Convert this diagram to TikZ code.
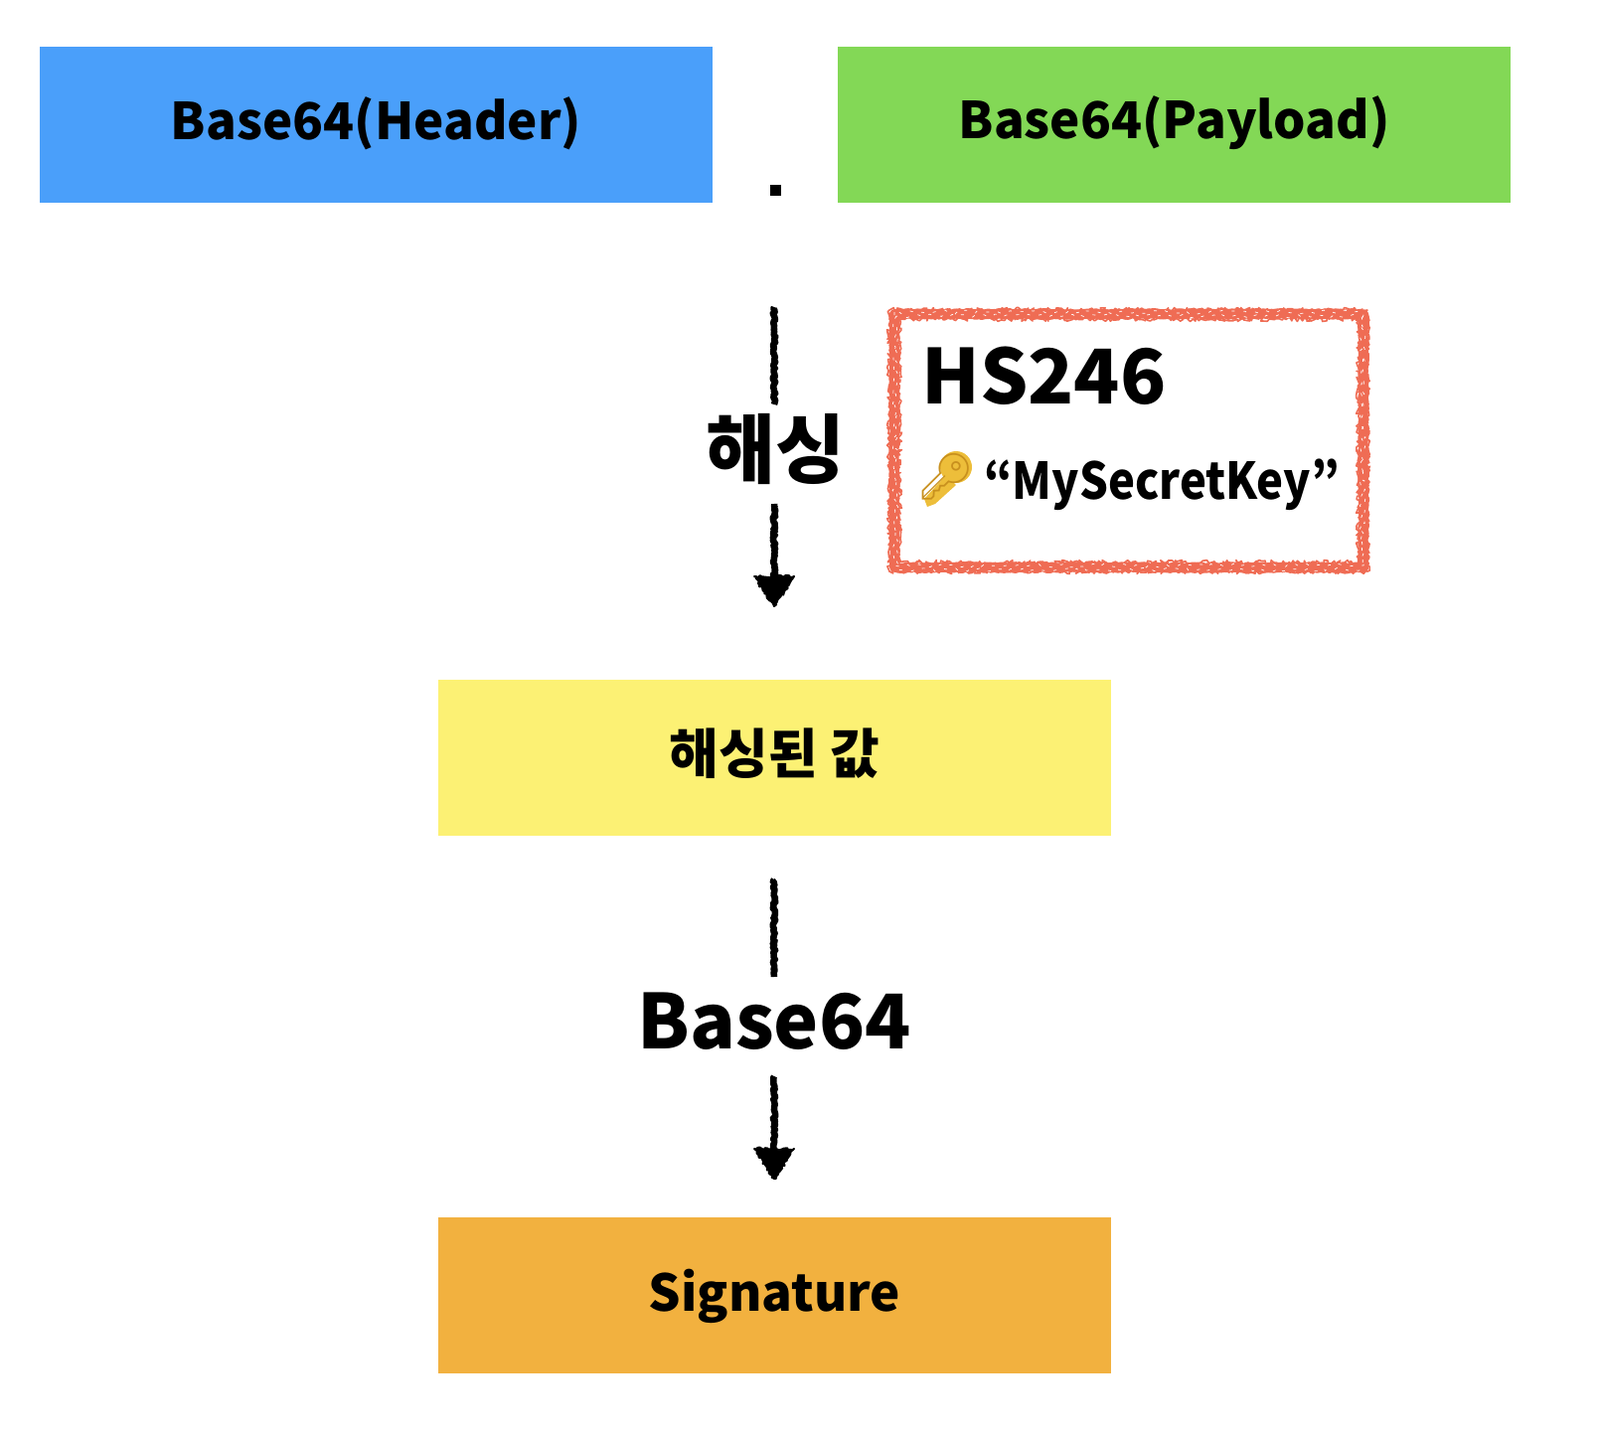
\documentclass[tikz,border=0pt]{standalone}
\usepackage{fontspec}
\setmainfont{Noto Sans CJK KR}[UprightFont=* Black,BoldFont=* Black]
\newfontfamily\emojifont{Noto Emoji}
\usetikzlibrary{decorations.pathmorphing}
\definecolor{hdrblue}{HTML}{4A9FFA}
\definecolor{plgreen}{HTML}{83D856}
\definecolor{hashyellow}{HTML}{FCF174}
\definecolor{sigorange}{HTML}{F2B13F}
\definecolor{keyred}{HTML}{EF6C54}
\definecolor{keygold}{HTML}{EDBE3A}
\definecolor{keyedge}{HTML}{C8901E}
\tikzset{
  x=1pt,y=-1pt,
  blockbox/.style={minimum width=677pt,minimum height=157pt,inner sep=0pt,anchor=center},
  blocktext/.style={font=\fontsize{51}{60}\selectfont,text=black,inner sep=0pt,anchor=center},
  biglabel/.style={font=\fontsize{76}{90}\selectfont,text=black,inner sep=0pt,anchor=center},
  roughline/.style={draw=black,line width=6.5pt,line join=round,decorate,decoration={random steps,segment length=1.8pt,amplitude=1.3pt}},
  roughtip/.style={fill=black,draw=black,line width=2pt,line join=round,decorate,decoration={random steps,segment length=2pt,amplitude=1.5pt}},
  roughframe/.style={draw=keyred,line width=10pt,line join=round,decorate,decoration={random steps,segment length=2pt,amplitude=1pt}},
  roughframeb/.style={draw=keyred,line width=1.6pt,line join=round,decorate,decoration={random steps,segment length=2pt,amplitude=2.5pt}},
  chalk/.style={draw=white,line width=0.7pt,dash pattern=on 3pt off 9pt,decorate,decoration={random steps,segment length=4pt,amplitude=2pt}}
}
\begin{document}
\begin{tikzpicture}
\useasboundingbox (0,0) rectangle (1610,1444);
\node[blockbox,fill=hdrblue] (header) at (378.5,125.5) {};
\node[blockbox,fill=plgreen] (payload) at (1181.5,125.5) {};
\node[blockbox,fill=hashyellow] (hashed) at (779.5,762) {};
\node[blockbox,fill=sigorange] (signature) at (779.5,1303) {};
\node[blocktext] (headertext) at (378.5,124) {Base64(Header)};
\node[blocktext] (payloadtext) at (1181.5,124) {Base64(Payload)};
\node[blocktext,font=\fontsize{54}{60}\selectfont] (hashedtext) at (779.5,758) {해싱된 값};
\node[blocktext] (signaturetext) at (779.5,1304) {Signature};
\node[fill=black,minimum size=11pt,inner sep=0pt] (dot) at (780,191) {};
% key frame
\draw[roughframe] (900,316) rectangle (1372,571);
\draw[roughframeb] (895,312) rectangle (1376,575);
\draw[roughframeb] (905,321) rectangle (1367,566);
\draw[chalk] (900,314) rectangle (1372,569);
\draw[chalk] (902,318) rectangle (1370,573);
\node[font=\fontsize{76}{90}\selectfont,anchor=west,inner sep=0pt] (algo) at (927,378) {HS246};
% key: solid gold body under the glyph
\fill[keygold] (962,470) circle (16);
\fill[keygold] (952,478) -- (962,488) -- (941,507) -- (933,510) -- (930,502) -- cycle;
\node[font=\emojifont\fontsize{46}{50}\selectfont,text=keyedge,anchor=center,inner sep=0pt] (keyicon) at (952,480) {🔑};
\node[font=\fontsize{51}{60}\selectfont,anchor=west,inner sep=0pt] (secret) at (990,488) {\scalebox{0.89}[1]{“MySecretKey”}};
% labels
\node[biglabel] (hashlabel) at (780,452) {해싱};
\node[biglabel] (b64label) at (779,1028) {Base64};
% connectors
\coordinate (a1) at (779,309);
\coordinate (a2) at (779,407);
\coordinate (a3) at (779,507);
\coordinate (a4) at (779,582);
\coordinate (b1) at (779,885);
\coordinate (b2) at (779,983);
\coordinate (b3) at (779,1083);
\coordinate (b4) at (779,1158);
\draw[roughline] (a1) -- (a2);
\draw[roughline] (a3) -- (a4);
\draw[roughtip] (759,580) -- (799,580) -- (779,610) -- cycle;
\draw[roughline] (b1) -- (b2);
\draw[roughline] (b3) -- (b4);
\draw[roughtip] (759,1156) -- (799,1156) -- (779,1186) -- cycle;
\end{tikzpicture}
\end{document}
